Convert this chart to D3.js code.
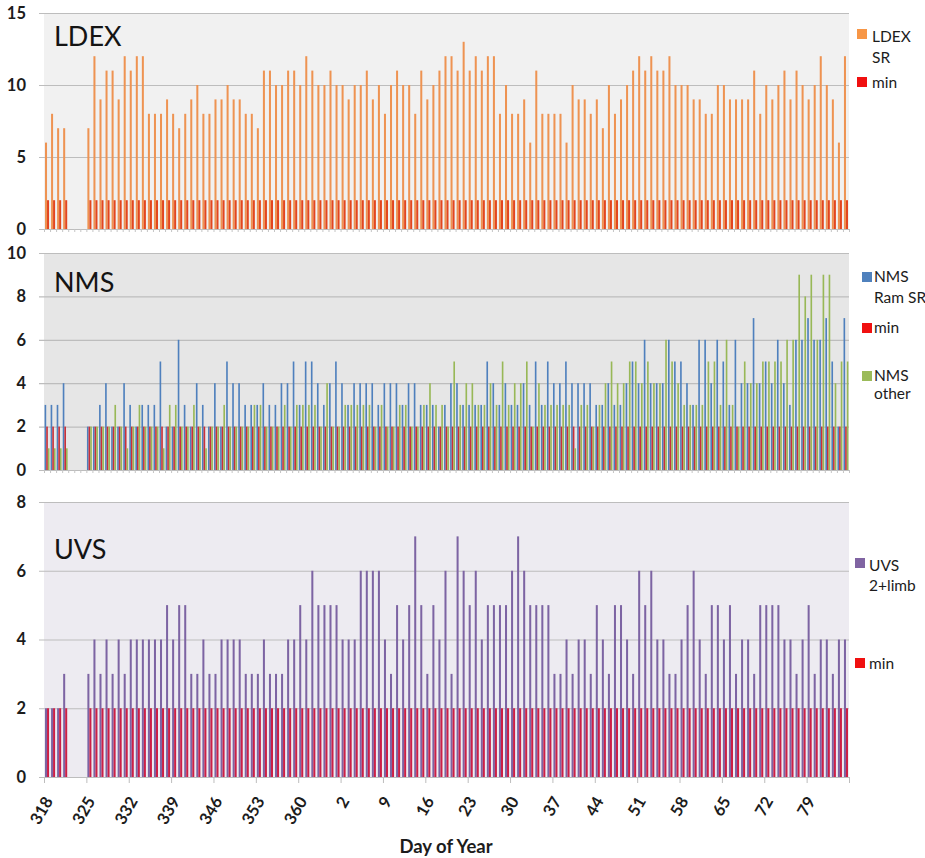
<!DOCTYPE html>
<html>
<head>
<meta charset="utf-8">
<script src="https://cdn.jsdelivr.net/npm/d3@7"></script>
<style>
  body { margin: 0; background: #ffffff; }
  svg { display: block; font-family: Lato, "Open Sans", sans-serif; }
</style>
</head>
<body>
<svg id="chart" width="925" height="858"></svg>
<script>
// Day of year for each category (Nov 14 through Mar 26)
const days = [
  318,319,320,321,322,323,324,325,326,327,328,329,330,331,332,333,334,335,336,337,338,339,340,341,
  342,343,344,345,346,347,348,349,350,351,352,353,354,355,356,357,358,359,360,361,362,363,364,365,
  1,2,3,4,5,6,7,8,9,10,11,12,13,14,15,16,17,18,19,20,21,22,23,24,25,26,27,28,29,30,
  31,32,33,34,35,36,37,38,39,40,41,42,43,44,45,46,47,48,49,50,51,52,53,54,55,56,57,58,59,60,
  61,62,63,64,65,66,67,68,69,70,71,72,73,74,75,76,77,78,79,80,81,82,83,84,85
];
const xTickLabels = ["318","325","332","339","346","353","360","2","9","16","23","30","37","44","51","58","65","72","79",""];

// LDEX science-run counts
const ldexSR = [
  6,8,7,7,null,null,null,
  7,12,9,11,11,9,12,11,12,12,8,8,8,9,8,7,8,9,10,8,8,9,9,10,9,9,8,8,7,11,11,10,10,11,11,10,12,
  11,10,10,11,10,10,9,10,10,11,9,10,8,10,11,10,10,8,11,9,10,11,12,12,11,13,11,12,11,12,12,8,10,8,8,9,6,11,8,8,8,8,6,10,9,9,8,9,7,
  10,8,9,10,11,12,11,12,11,11,12,10,10,10,9,9,8,8,10,10,9,9,9,9,11,8,10,9,10,11,9,11,10,9,10,12,10,9,6,12
];
const ldexMin = [
  2,2,2,2,null,null,null,
  2,2,2,2,2,2,2,2,2,2,2,2,2,2,2,2,2,2,2,2,2,
  2,2,2,2,2,2,2,2,2,2,2,2,2,2,2,2,2,2,2,2,2,
  2,2,2,2,2,2,2,2,2,2,2,2,2,2,2,2,2,2,2,2,2,
  2,2,2,2,2,2,2,2,2,2,2,2,2,2,2,2,2,2,2,2,2,
  2,2,2,2,2,2,2,2,2,2,2,2,2,2,2,2,2,2,2,2,2,
  2,2,2,2,2,2,2,2,2,2,2,2,2,2,2,2,2,2,2,2,2
];

// NMS counts
const nmsRamSR = [
  3,3,3,4,null,null,null,
  2,2,3,4,2,2,4,3,2,3,3,3,5,2,2,6,3,2,4,3,2,4,2,5,4,4,3,3,3,4,3,3,4,4,5,3,5,
  5,4,3,4,5,4,3,4,4,4,4,3,4,4,4,3,4,4,3,3,3,2,3,4,4,3,3,3,3,5,4,3,4,3,3,4,3,5,3,5,4,4,5,4,4,4,4,3,3,
  4,3,3,4,5,4,6,4,4,4,6,5,5,4,3,6,6,4,6,5,3,6,4,4,7,4,5,4,6,4,3,6,6,7,6,6,7,5,2,7
];
const nmsMin = [
  2,2,2,2,null,null,null,
  2,2,2,2,2,2,2,2,2,2,2,2,2,2,2,2,2,2,2,2,2,
  2,2,2,2,2,2,2,2,2,2,2,2,2,2,2,2,2,2,2,2,2,
  2,2,2,2,2,2,2,2,2,2,2,2,2,2,2,2,2,2,2,2,2,
  2,2,2,2,2,2,2,2,2,2,2,2,2,2,2,2,2,2,2,2,2,
  2,2,2,2,2,2,2,2,2,2,2,2,2,2,2,2,2,2,2,2,2,
  2,2,2,2,2,2,2,2,2,2,2,2,2,2,2,2,2,2,2,2,2
];
const nmsOther = [
  1,1,1,1,null,null,null,
  2,2,2,2,3,2,1,2,3,2,2,2,1,3,3,2,2,3,2,1,2,2,3,2,2,2,2,3,3,2,2,2,3,2,3,3,3,
  3,2,4,2,2,3,3,3,3,3,2,3,2,2,3,3,2,2,3,4,3,3,2,5,3,4,4,3,3,4,3,5,3,4,4,5,2,4,3,3,3,3,3,1,3,3,2,3,4,
  5,4,4,5,5,4,5,4,4,6,5,4,3,3,3,3,5,5,3,6,3,2,5,4,4,5,5,5,5,6,6,9,8,9,6,9,9,4,5,5
];

// UVS counts
const uvsLimb = [
  2,2,2,3,null,null,null,
  3,4,3,4,3,4,3,4,4,4,4,4,4,5,4,5,5,3,3,4,3,3,4,4,4,4,3,3,3,4,3,3,3,4,4,5,4,
  6,5,5,5,5,4,4,4,6,6,6,6,4,3,5,4,5,7,5,3,5,4,6,3,7,6,5,6,4,5,5,5,5,6,7,6,5,5,5,5,3,3,4,3,4,4,3,5,4,
  3,5,5,4,3,6,5,6,4,4,3,3,4,5,6,4,3,5,5,4,5,3,4,4,3,5,5,5,5,4,4,3,4,5,3,4,4,3,4,4
];
const uvsMin = [
  2,2,2,2,null,null,null,
  2,2,2,2,2,2,2,2,2,2,2,2,2,2,2,2,2,2,2,2,2,
  2,2,2,2,2,2,2,2,2,2,2,2,2,2,2,2,2,2,2,2,2,
  2,2,2,2,2,2,2,2,2,2,2,2,2,2,2,2,2,2,2,2,2,
  2,2,2,2,2,2,2,2,2,2,2,2,2,2,2,2,2,2,2,2,2,
  2,2,2,2,2,2,2,2,2,2,2,2,2,2,2,2,2,2,2,2,2,
  2,2,2,2,2,2,2,2,2,2,2,2,2,2,2,2,2,2,2,2,2
];

const svg = d3.select("#chart");
const plotLeft = 44, plotRight = 849;
const idx = days.map((d, i) => i);

const x = d3.scaleBand().domain(idx).range([plotLeft, plotRight]).paddingInner(0).paddingOuter(0);
const xEdge = d3.scaleLinear().domain([0, days.length]).range([plotLeft, plotRight]);

const panels = [
  {
    title: "LDEX", top: 13, bottom: 229, yMax: 15, yTicks: [0, 5, 10, 15], bg: "#F1F1F1",
    outerPad: 0.5, titleY: 46,
    series: [
      { key: "sr", values: ldexSR, color: "#EE9352" },
      { key: "min", values: ldexMin, color: "#E2451F" }
    ],
    legend: [
      { color: "#F79646", sx: 857, sy: 29, tx: 872, lines: [["LDEX", 42], ["SR", 63]] },
      { color: "#F01010", sx: 857, sy: 77, tx: 872, lines: [["min", 88]] }
    ],
    catTicks: true
  },
  {
    title: "NMS", top: 253, bottom: 470, yMax: 10, yTicks: [0, 2, 4, 6, 8, 10], bg: "#E6E6E6",
    outerPad: 0.35, titleY: 292,
    series: [
      { key: "ram", values: nmsRamSR, color: "#4F80BD" },
      { key: "min", values: nmsMin, color: "#C8303A" },
      { key: "other", values: nmsOther, color: "#98B857" }
    ],
    legend: [
      { color: "#4F81BD", sx: 862, sy: 272, tx: 874, lines: [["NMS", 282], ["Ram SR", 303]] },
      { color: "#F01010", sx: 862, sy: 323, tx: 874, lines: [["min", 333]] },
      { color: "#9BBB59", sx: 862, sy: 371, tx: 874, lines: [["NMS", 381], ["other", 399]] }
    ],
    catTicks: true
  },
  {
    title: "UVS", top: 502, bottom: 777, yMax: 8, yTicks: [0, 2, 4, 6, 8], bg: "#EDEBF1",
    outerPad: 0.5, titleY: 559,
    series: [
      { key: "limb", values: uvsLimb, color: "#7D64A3" },
      { key: "min", values: uvsMin, color: "#CC1F46" }
    ],
    legend: [
      { color: "#8064A2", sx: 855, sy: 558, tx: 869, lines: [["UVS", 571], ["2+limb", 591]] },
      { color: "#F01010", sx: 855, sy: 658, tx: 869, lines: [["min", 669]] }
    ],
    catTicks: false
  }
];

panels.forEach(p => {
  const g = svg.append("g");
  const y = d3.scaleLinear().domain([0, p.yMax]).range([p.bottom, p.top]);

  // plot area background
  g.append("rect")
    .attr("x", plotLeft).attr("y", p.top)
    .attr("width", plotRight - plotLeft).attr("height", p.bottom - p.top)
    .attr("fill", p.bg);

  // gridlines with outside tick stubs and value labels
  const yAxis = g.append("g")
    .attr("transform", `translate(${plotLeft - 5},0)`)
    .call(d3.axisLeft(y).tickValues(p.yTicks).tickSize(-(plotRight - plotLeft + 5)).tickPadding(13));
  yAxis.select(".domain").remove();
  yAxis.selectAll("line").attr("stroke", "#BDBDBD").attr("stroke-width", 1.2);
  yAxis.selectAll("text")
    .attr("fill", "#1c1c1c")
    .style("font-size", "16.5px").style("font-weight", "700")
    .style("font-family", "Lato, 'Open Sans', sans-serif");

  // clustered bars
  const xs = d3.scaleBand().domain(p.series.map(s => s.key))
    .range([0, x.bandwidth()]).paddingInner(0).paddingOuter(p.outerPad);
  p.series.forEach(s => {
    g.append("g").selectAll("rect")
      .data(idx.filter(i => s.values[i] != null))
      .join("rect")
      .attr("x", i => x(i) + xs(s.key))
      .attr("width", xs.bandwidth())
      .attr("y", i => y(s.values[i]))
      .attr("height", i => y(0) - y(s.values[i]))
      .attr("fill", s.color);
  });

  // small ticks at each day boundary
  if (p.catTicks) {
    const ct = g.append("g")
      .attr("transform", `translate(0,${p.bottom})`)
      .call(d3.axisBottom(xEdge).tickValues(d3.range(0, days.length + 1)).tickSize(3).tickFormat(""));
    ct.select(".domain").remove();
    ct.selectAll("line").attr("stroke", "#C4C4C4");
  }

  // panel title
  g.append("text")
    .attr("x", 54).attr("y", p.titleY)
    .attr("fill", "#141414")
    .style("font-size", "27px")
    .text(p.title);

  // legend
  p.legend.forEach(l => {
    g.append("rect").attr("x", l.sx).attr("y", l.sy).attr("width", 10).attr("height", 10).attr("fill", l.color);
    l.lines.forEach(([t, by]) => {
      g.append("text").attr("x", l.tx).attr("y", by)
        .attr("fill", "#1c1c1c").style("font-size", "15.5px").text(t);
    });
  });

  // bottom panel carries the day-of-year axis
  if (p.title === "UVS") {
    const xa = g.append("g")
      .attr("transform", `translate(0,${p.bottom})`)
      .call(d3.axisBottom(xEdge)
        .tickValues(d3.range(0, days.length + 1, 7))
        .tickSize(6)
        .tickFormat((d, k) => xTickLabels[k]));
    xa.select(".domain").remove();
    xa.selectAll("line").attr("stroke", "#BDBDBD");
    xa.selectAll("text")
      .attr("x", 9).attr("y", 24).attr("dy", 0)
      .attr("text-anchor", "end")
      .attr("transform", "rotate(-60, 9, 24)")
      .attr("fill", "#1c1c1c")
      .style("font-size", "16.5px").style("font-weight", "700")
      .style("font-family", "Lato, 'Open Sans', sans-serif");
  }
});

svg.append("text")
  .attr("x", 446).attr("y", 853)
  .attr("text-anchor", "middle")
  .attr("fill", "#1c1c1c")
  .style("font-size", "18.5px").style("font-weight", "700")
  .text("Day of Year");
</script>
</body>
</html>
